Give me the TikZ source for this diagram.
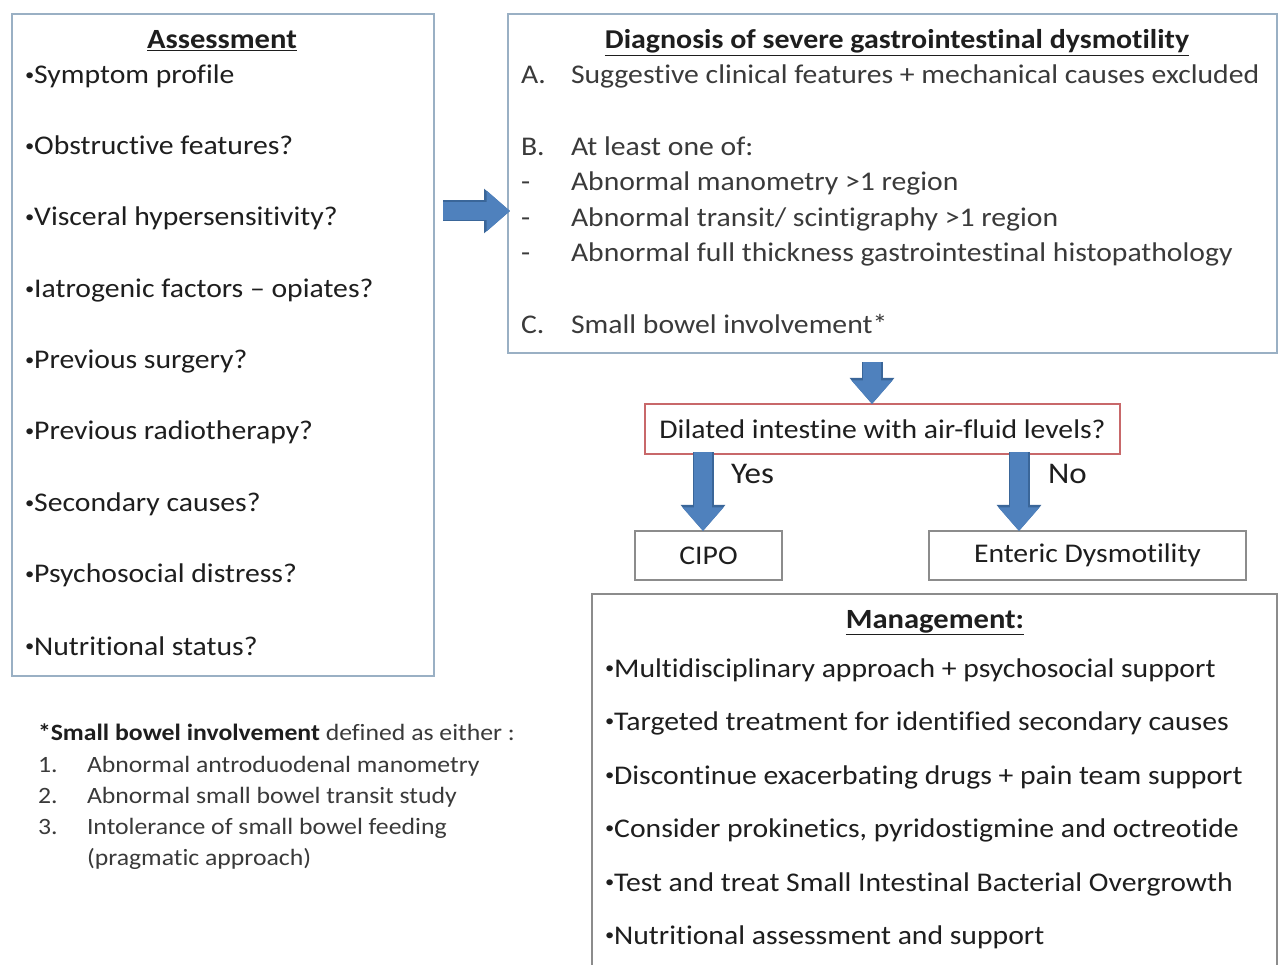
\documentclass[tikz,border=0pt]{standalone}
\usepackage{fontspec}
\setmainfont{Carlito}[FakeStretch=1.1,Ligatures=NoCommon]
\usetikzlibrary{arrows.meta}
\definecolor{boxblue}{HTML}{9AB0C4}
\definecolor{boxgray}{HTML}{8C8C8C}
\definecolor{redbox}{HTML}{C8686A}
\definecolor{arrowfill}{HTML}{4F81BD}
\definecolor{arrowdark}{HTML}{3A6699}
\definecolor{txt}{HTML}{1E1E1E}
\definecolor{txtg}{HTML}{3A3A3A}
\newcommand\smbul{\raisebox{0.13em}{\scalebox{0.62}{•}}}
\tikzset{
  every node/.style={inner sep=0pt, outer sep=0pt},
  frame/.style={draw=#1, line width=1.2pt},
  item/.style={anchor=base west, text=txt, font=\fontsize{27}{30}\selectfont},
  ditem/.style={anchor=base west, text=txtg, font=\fontsize{27}{30}\selectfont},
  mitem/.style={anchor=base west, text=txt, font=\fontsize{27}{30}\selectfont},
  fitem/.style={anchor=base west, text=txtg, font=\fontsize{23.4}{26}\selectfont},
  ttl/.style={anchor=base, text=txt, font=\bfseries\fontsize{27.8}{30}\selectfont},
  smallbox/.style={draw=boxgray, line width=1.2pt, minimum height=49pt, text=txt,
      font=\fontsize{27}{30}\selectfont},
  lbl/.style={anchor=base west, text=txt, font=\fontsize{30}{32}\selectfont},
  fatout/.style={line width=21pt, arrowdark, -{Triangle[length=26pt,width=43pt]}},
  fat/.style={line width=18.6pt, arrowfill, -{Triangle[length=23.5pt,width=39.5pt]}},
}
\newcommand\fatarrow[2]{\draw[fatout] #1 -- #2; \draw[fat] #1 -- #2;}
\begin{document}
\begin{tikzpicture}[x=1pt,y=-1pt]
\useasboundingbox[fill=white] (0,0) rectangle (1278,965);

% Assessment box
\draw[frame=boxblue] (12,14) rectangle (434,676);
\node[ttl] (at) at (222,49) {\underline{Assessment}};
\node[item] (a1) at (25,84) {\smbul Symptom profile};
\node[item] (a2) at (25,155) {\smbul Obstructive features?};
\node[item] (a3) at (25,226) {\smbul Visceral hypersensitivity?};
\node[item] (a4) at (25,298) {\smbul Iatrogenic factors – opiates?};
\node[item] (a5) at (25,369) {\smbul Previous surgery?};
\node[item] (a6) at (25,440) {\smbul Previous radiotherapy?};
\node[item] (a7) at (25,512) {\smbul Secondary causes?};
\node[item] (a8) at (25,583) {\smbul Psychosocial distress?};
\node[item] (a9) at (25,655) {\smbul Nutritional status?};
\coordinate (asbox) at (443,211);

% Diagnosis box
\draw[frame=boxblue] (508,14) rectangle (1277,353);
\coordinate (dgbox) at (510,211);
\node[ttl, font=\bfseries\fontsize{27.2}{30}\selectfont] (dt) at (897,49) {\underline{Diagnosis of severe gastrointestinal dysmotility}};
\node[ditem] (dA) at (521,84) {A.};
\node[ditem] (dAt) at (571,84) {Suggestive clinical features + mechanical causes excluded};
\node[ditem] (dB) at (521,156) {B.};
\node[ditem] (dBt) at (571,156) {At least one of:};
\node[ditem] (d1) at (521,191) {-};
\node[ditem] (d1t) at (571,191) {Abnormal manometry >1 region};
\node[ditem] (d2) at (521,227) {-};
\node[ditem] (d2t) at (571,227) {Abnormal transit/ scintigraphy >1 region};
\node[ditem] (d3) at (521,262) {-};
\node[ditem] (d3t) at (571,262) {Abnormal full thickness gastrointestinal histopathology};
\node[ditem] (dC) at (521,334) {C.};
\node[ditem] (dCt) at (571,334) {Small bowel involvement*};

% Decision
\node[smallbox, draw=redbox, minimum width=475pt, minimum height=50pt] (dil) at (882.5,429) {Dilated intestine with air-fluid levels?};
\node[smallbox, minimum width=147pt] (cipo) at (708.5,555.5) {CIPO};
\node[smallbox, minimum width=317pt] (ent) at (1087.5,555.5) {Enteric Dysmotility};
\node[lbl] (yes) at (731,484) {Yes};
\node[lbl] (no) at (1048,484) {No};

\coordinate (yesx) at (703,0);
\coordinate (nox) at (1019,0);
\coordinate (ax) at (872,0);
\coordinate (dgbot) at (872,362);

% Fat arrows
\fatarrow{(asbox)}{(dgbox)}
\fatarrow{(dgbot)}{(ax |- dil.north)}
\fatarrow{([yshift=1.5pt]yesx |- dil.south)}{(yesx |- cipo.north)}
\fatarrow{([yshift=1.5pt]nox |- dil.south)}{(nox |- ent.north)}

% Management box
\draw[frame=boxgray] (592,966) -- (592,594) -- (1277,594) -- (1277,966);
\node[ttl] (mt) at (935,628) {\underline{Management:}};
\node[mitem] (m1) at (605,677) {\smbul Multidisciplinary approach + psychosocial support};
\node[mitem] (m2) at (605,730) {\smbul Targeted treatment for identified secondary causes};
\node[mitem] (m3) at (605,784) {\smbul Discontinue exacerbating drugs + pain team support};
\node[mitem] (m4) at (605,837) {\smbul Consider prokinetics, pyridostigmine and octreotide};
\node[mitem] (m5) at (605,891) {\smbul Test and treat Small Intestinal Bacterial Overgrowth};
\node[mitem] (m6) at (605,944) {\smbul Nutritional assessment and support};

% Footnote
\node[fitem] (f0) at (38,740) {\textbf{\color{txt}*Small bowel involvement} defined as either :};
\node[fitem] (f1) at (38,772) {1.};
\node[fitem] (f1t) at (87,772) {Abnormal antroduodenal manometry};
\node[fitem] (f2) at (38,803) {2.};
\node[fitem] (f2t) at (87,803) {Abnormal small bowel transit study};
\node[fitem] (f3) at (38,834) {3.};
\node[fitem] (f3t) at (87,834) {Intolerance of small bowel feeding};
\node[fitem] (f4t) at (87,865) {(pragmatic approach)};
\end{tikzpicture}
\end{document}
